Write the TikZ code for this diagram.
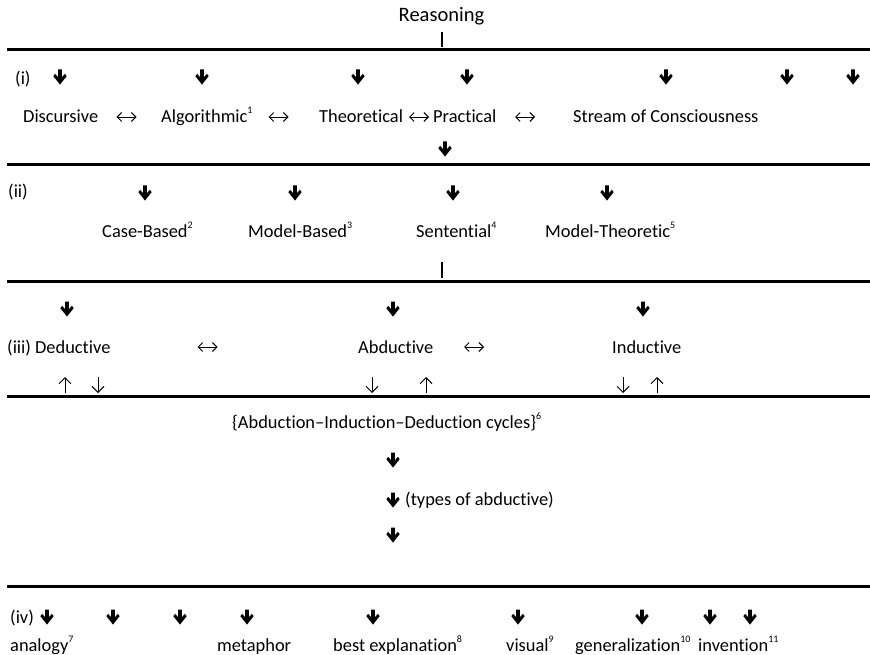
\documentclass[tikz,border=0pt]{standalone}
\usepackage{fontspec}
\usetikzlibrary{arrows.meta}
\setmainfont{Carlito}[Ligatures=NoCommon]
\newcommand\supnum[1]{\raisebox{9pt}{\fontsize{10}{10}\selectfont #1}}
\begin{document}
\begin{tikzpicture}[x=1pt,y=-1pt,
  lbl/.style={anchor=base west,inner sep=0pt,font=\fontsize{18.4}{22}\selectfont},
  rule/.style={line width=3pt},
  tick/.style={line width=1.8pt},
  lrbarb/.style={line width=0.9pt,arrows={#1},
     >={Straight Barb[length=4.5pt,width=9pt,line width=0.9pt]}},
  udbarb/.style={line width=0.9pt,arrows={#1},
     >={Straight Barb[length=6pt,width=12pt,line width=0.9pt]}},
  harrow/.pic={\fill (-1.9,-7.5) -- (1.9,-7.5) -- (1.9,0.2) -- (4.8,-3.1) -- (6.7,-0.9)
     -- (0,7.6) -- (-6.7,-0.9) -- (-4.8,-3.1) -- (-1.9,0.2) -- cycle;},
  lrarrow/.pic={\draw[lrbarb=<->] (-10,0) -- (10,0);},
  uparrow/.pic={\draw[udbarb=->] (0,8) -- (0,-8);},
  dnarrow/.pic={\draw[udbarb=->] (0,-8) -- (0,8);}]
\useasboundingbox (0,0) rectangle (870,655);

% title and section rules
\node[anchor=base,inner sep=0pt,font=\fontsize{20.5}{24}\selectfont] (reasoning) at (441.5,22) {Reasoning};
\coordinate (tA) at (442,32); \coordinate (tB) at (442,47);
\draw[tick] (tA) -- (tB);
\foreach \yy [count=\k] in {50,165,281,396,586}{
  \coordinate (l\k w) at (7,\yy); \coordinate (l\k e) at (870,\yy);
  \draw[rule] (l\k w) -- (l\k e);
}

% (i)
\node[lbl] (ri) at (15,85) {(i)};
\foreach \xx in {60,202,358,467,666,787,853} \pic at (\xx,77) {harrow};
\node[lbl] (disc) at (23,123) {Discursive};
\node[lbl] (algo) at (161,123) {Algorithmic\supnum{1}};
\node[lbl] (theo) at (319,123) {Theoretical};
\node[lbl] (prac) at (433,123) {Practical};
\node[lbl] (stream) at (573,123) {Stream of Consciousness};
\foreach \xx in {126.5,278.5,419,525} \pic at (\xx,117) {lrarrow};
\pic at (445,149) {harrow};

% (ii)
\node[lbl] (rii) at (8,198) {(ii)};
\foreach \xx in {145,295,453,607} \pic at (\xx,193) {harrow};
\node[lbl] (case) at (102,237) {Case-Based\supnum{2}};
\node[lbl] (model) at (248,237) {Model-Based\supnum{3}};
\node[lbl] (sent) at (416,237) {Sentential\supnum{4}};
\node[lbl] (mtheo) at (545,237) {Model-Theoretic\supnum{5}};
\coordinate (tC) at (442,262); \coordinate (tD) at (442,278);
\draw[tick] (tC) -- (tD);

% (iii)
\foreach \xx in {67,393,643} \pic at (\xx,309) {harrow};
\node[lbl] (ded) at (7,353) {(iii) Deductive};
\node[lbl] (abd) at (358,353) {Abductive};
\node[lbl] (ind) at (612,353) {Inductive};
\foreach \xx in {207.5,474} \pic at (\xx,347) {lrarrow};
\foreach \xx in {65,426,657} \pic at (\xx,385) {uparrow};
\foreach \xx in {98,372,623} \pic at (\xx,385) {dnarrow};

% cycles
\node[lbl] (cyc) at (232,428) {\{Abduction–Induction–Deduction cycles\}\supnum{6}};
\foreach \yy in {460,500,535} \pic at (393,\yy) {harrow};
\node[lbl] (types) at (405,505) {(types of abductive)};

% (iv)
\node[lbl] (riv) at (10,623) {(iv)};
\foreach \xx in {47,113,180,247,373,518,642,710,750} \pic at (\xx,617) {harrow};
\node[lbl] (ana) at (10,651) {analogy\supnum{7}};
\node[lbl] (meta) at (217,651) {metaphor};
\node[lbl] (best) at (333,651) {best explanation\supnum{8}};
\node[lbl] (vis) at (506,651) {visual\supnum{9}};
\node[lbl] (gen) at (575,651) {generalization\supnum{10}};
\node[lbl] (inv) at (698,651) {invention\supnum{11}};
\end{tikzpicture}
\end{document}
